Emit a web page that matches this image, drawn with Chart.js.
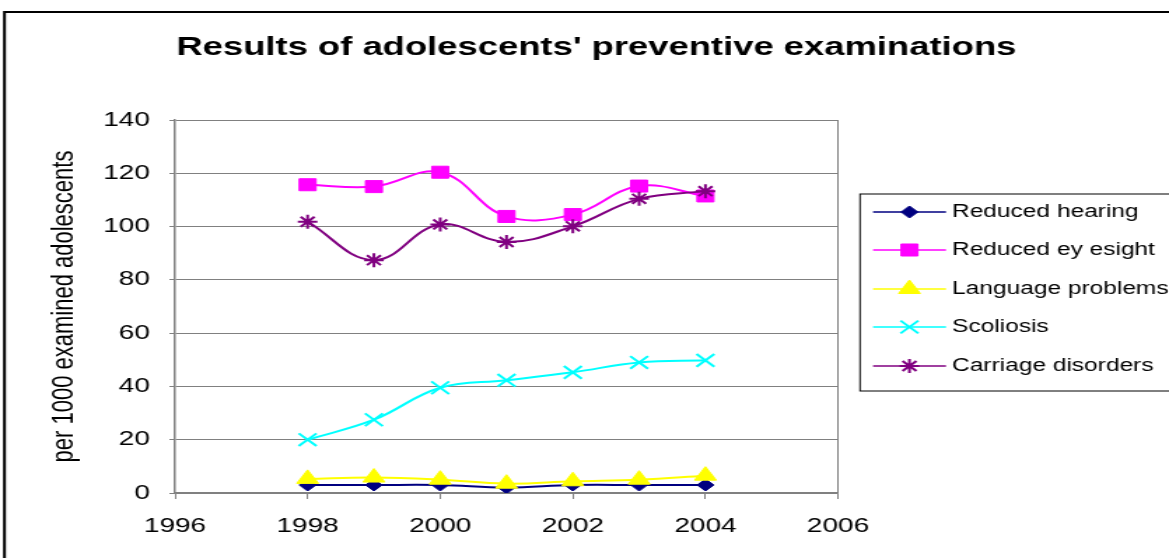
<!DOCTYPE html>
<html>
<head>
<meta charset="utf-8">
<script src="https://cdn.jsdelivr.net/npm/chart.js@4"></script>
<style>
html,body{margin:0;padding:0;background:#fff;overflow:hidden;}
canvas{display:block;}
</style>
</head>
<body>
<canvas id="c" width="835" height="558" style="width:1169px;height:558px;"></canvas>
<script>
const years = [1998, 1999, 2000, 2001, 2002, 2003, 2004];
const reducedHearing = [3.0, 3.0, 3.0, 2.0, 3.0, 3.0, 3.0];
const reducedEyesight = [115.7, 115.0, 120.4, 103.8, 104.5, 115.2, 111.5];
const languageProblems = [5.3, 5.8, 5.0, 3.5, 4.4, 5.0, 6.5];
const scoliosis = [20.0, 27.5, 39.5, 42.3, 45.3, 49.0, 49.8];
const carriageDisorders = [101.8, 87.4, 100.8, 94.2, 100.1, 110.4, 113.3];
const seriesNames = ['Reduced hearing', 'Reduced ey esight', 'Language problems', 'Scoliosis', 'Carriage disorders'];
const xTicks = [1996, 1998, 2000, 2002, 2004, 2006];
const yTicks = [0, 20, 40, 60, 80, 100, 120, 140];
const chartTitle = "Results of adolescents' preventive examinations";
const yTitle = 'per 1000 examined adolescents';

const FONT = "'Liberation Sans', Arial, sans-serif";
const seriesValues = [reducedHearing, reducedEyesight, languageProblems, scoliosis, carriageDisorders];
const seriesStyles = [
  {color: '#000080', pointStyle: 'rectRot', radius: 6, bw: 1},
  {color: '#FF00FF', pointStyle: 'rect', radius: 8.5, bw: 1},
  {color: '#FFFF00', pointStyle: 'triangle', radius: 9, bw: 1},
  {color: '#00FFFF', pointStyle: 'crossRot', radius: 9, bw: 2},
  {color: '#800080', pointStyle: 'star', radius: 7, bw: 2}
];

const datasets = seriesNames.map((name, i) => ({
  label: name,
  data: years.map((yr, j) => ({x: yr, y: seriesValues[i][j]})),
  borderColor: seriesStyles[i].color,
  backgroundColor: seriesStyles[i].color,
  pointBackgroundColor: seriesStyles[i].color,
  pointBorderColor: seriesStyles[i].color,
  pointStyle: seriesStyles[i].pointStyle,
  pointRadius: seriesStyles[i].radius,
  pointBorderWidth: seriesStyles[i].bw,
  borderWidth: 2,
  tension: 0.4,
  fill: false,
  order: seriesNames.length - i,
  yAxisID: 'y',
  xAxisID: 'x'
}));

const frameAndLegend = {
  id: 'frameAndLegend',
  beforeDraw(chart) {
    const ctx = chart.ctx;
    ctx.save();
    ctx.fillStyle = '#ffffff';
    ctx.fillRect(0, 0, chart.width, chart.height);
    ctx.strokeStyle = '#000000';
    ctx.lineWidth = 2;
    ctx.strokeRect(3.2, 12, chart.width + 20, chart.height + 20);
    ctx.restore();
  },
  afterDraw(chart) {
    const ctx = chart.ctx;
    ctx.save();
    ctx.strokeStyle = '#000000';
    ctx.lineWidth = 1;
    ctx.strokeRect(614.3, 194, 300, 197);
    const rowsY = [212, 250, 289, 327, 366];
    chart.data.datasets.forEach((ds, i) => {
      const st = seriesStyles[i];
      const y = rowsY[i];
      ctx.strokeStyle = st.color;
      ctx.fillStyle = st.color;
      ctx.lineWidth = 1.5;
      ctx.beginPath();
      ctx.moveTo(623.6, y);
      ctx.lineTo(675.7, y);
      ctx.stroke();
      ctx.lineWidth = st.bw;
      Chart.helpers.drawPoint(ctx, {pointStyle: st.pointStyle, radius: st.radius, rotation: 0, borderWidth: st.bw}, 649.6, y);
      ctx.fillStyle = '#000000';
      ctx.font = "17.5px " + FONT;
      ctx.textBaseline = 'middle';
      ctx.textAlign = 'left';
      ctx.fillText(ds.label, 680, y);
    });
    ctx.restore();
  }
};

new Chart(document.getElementById('c'), {
  type: 'line',
  data: {datasets},
  plugins: [frameAndLegend],
  options: {
    responsive: false,
    devicePixelRatio: 1,
    animation: false,
    events: [],
    layout: {padding: {left: 17, right: 0, top: 0, bottom: 0}},
    plugins: {
      legend: {display: false},
      tooltip: {enabled: false},
      title: {
        display: true,
        text: chartTitle,
        color: '#000000',
        font: {family: FONT, size: 26, weight: 'bold'},
        padding: {top: 32.6, bottom: 56.2}
      }
    },
    scales: {
      x: {
        type: 'linear',
        position: 'bottom',
        min: 1996,
        max: 2006,
        afterBuildTicks(s) { s.ticks = xTicks.map(v => ({value: v})); },
        afterFit(s) { s.height = 65; },
        ticks: {
          color: '#000000',
          font: {family: FONT, size: 20},
          padding: 15,
          maxRotation: 0,
          autoSkip: false,
          callback: v => String(v)
        },
        grid: {
          display: true,
          drawOnChartArea: true,
          color: c => (c.tick && c.tick.value === 2006) ? '#808080' : 'rgba(0,0,0,0)',
          tickColor: '#808080',
          tickLength: 6,
          lineWidth: 1
        },
        border: {display: true, color: '#808080', width: 1.5}
      },
      y: {
        type: 'linear',
        position: 'left',
        min: 0,
        max: 140,
        afterBuildTicks(s) { s.ticks = yTicks.map(v => ({value: v})); },
        afterFit(s) { s.width = 108; },
        ticks: {
          color: '#000000',
          font: {family: FONT, size: 20},
          padding: 14
        },
        grid: {
          color: '#808080',
          tickColor: '#808080',
          tickLength: 4,
          lineWidth: 1
        },
        border: {display: true, color: '#808080', width: 1.5},
        title: {
          display: true,
          text: yTitle,
          color: '#000000',
          font: {family: FONT, size: 22},
          padding: {top: 16.2, bottom: 0}
        }
      },
      yR: {
        type: 'linear',
        position: 'right',
        display: true,
        grid: {display: false, drawTicks: false},
        ticks: {display: false},
        border: {display: false},
        afterFit(s) { s.width = 835 - 598.6; }
      }
    }
  }
});
</script>
</body>
</html>
